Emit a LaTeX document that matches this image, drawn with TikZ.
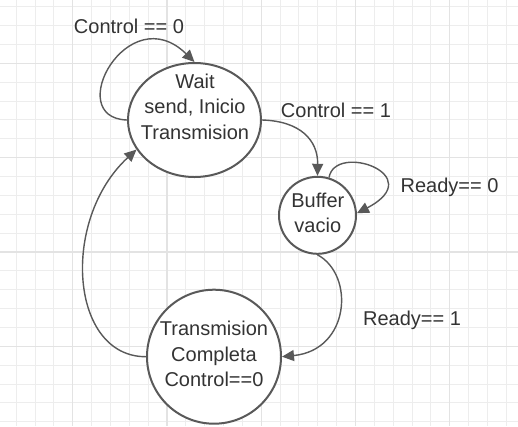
\documentclass[tikz,border=0pt]{standalone}
\usepackage{fontspec}
\setmainfont{Liberation Sans}
\usetikzlibrary{arrows.meta,shapes.geometric}
\definecolor{linecol}{HTML}{595959}
\definecolor{txtcol}{HTML}{333333}
\definecolor{gridminor}{HTML}{EDEDED}
\definecolor{gridmajor}{HTML}{E3E3E3}
\begin{document}
\begin{tikzpicture}[x=1pt,y=-1pt,
  statebox/.style={draw=linecol,line width=2pt,fill=white,inner sep=0pt},
  edge/.style={draw=linecol,line width=1.4pt,-{Triangle[length=12pt,width=11pt]}},
  txt/.style={text=txtcol,font=\fontsize{20}{25.4}\selectfont,align=center,inner sep=0pt,anchor=base},
  lbl/.style={text=txtcol,font=\fontsize{20}{24}\selectfont,inner sep=0pt,anchor=base}]
\useasboundingbox (0,0) rectangle (518,426);
\fill[white] (0,0) rectangle (518,426);
% grid
\foreach \k in {-3,...,23}{\draw[gridminor,line width=1pt] ({72.7+18.85*\k},0) -- ({72.7+18.85*\k},426);}
\foreach \k in {-3,...,19}{\draw[gridminor,line width=1pt] (0,{63.3+18.87*\k}) -- (518,{63.3+18.87*\k});}
\foreach \k in {0,5,...,20}{\draw[gridmajor,line width=1.4pt] ({72.7+18.85*\k},0) -- ({72.7+18.85*\k},426);}
\foreach \k in {0,5,...,15}{\draw[gridmajor,line width=1.4pt] (0,{63.3+18.87*\k}) -- (518,{63.3+18.87*\k});}
% states
\node[statebox,ellipse,minimum width=133pt,minimum height=114pt] (wait) at (194.5,120) {};
\node[statebox,circle,minimum size=77pt] (buffer) at (317.5,215.3) {};
\node[statebox,circle,minimum size=134pt] (trans) at (214,356.7) {};
\node[txt] (waittext) at (195,139.3) {Wait\\send, Inicio\\Transmision};
\node[txt] (buffertext) at (317.8,232.7) {Buffer\\vacio};
\node[txt] (transtext) at (214,386.7) {Transmision\\Completa\\Control==0};
% edges
\draw[edge] (wait.west) .. controls (62,118) and (128,-3) .. (wait.north);
\draw[edge] (wait.east) .. controls (300,121) and (318,140) .. (buffer.north);
\draw[edge] (buffer.73) .. controls (335,142) and (430,175) .. (buffer.3);
\draw[edge] (buffer.south) .. controls (355,275) and (350,350) .. (trans.east);
\draw[edge] (trans.west) .. controls (70,357) and (60,220) .. (wait.207);
% labels
\node[lbl] (l0) at (129,33) {Control == 0};
\node[lbl] (l1) at (336,117.3) {Control == 1};
\node[lbl] (r0) at (449.5,192.3) {Ready== 0};
\node[lbl] (r1) at (412,325) {Ready== 1};
\end{tikzpicture}
\end{document}
